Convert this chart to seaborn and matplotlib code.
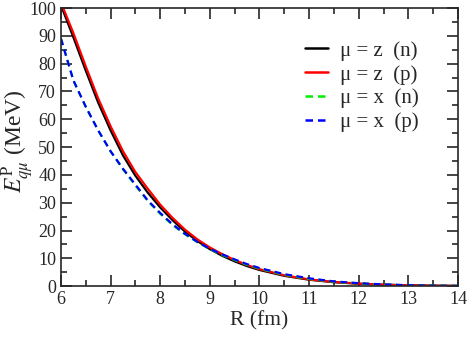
import numpy as np
import pandas as pd
import matplotlib
matplotlib.use('Agg')
import matplotlib.pyplot as plt
import seaborn as sns
from matplotlib.ticker import MultipleLocator

# 数据：近似值
R = [6.0, 6.25, 6.5, 6.75, 7.0, 7.25, 7.5, 7.75, 8.0, 8.25, 8.5, 8.75, 9.0,
     9.25, 9.5, 9.75, 10.0, 10.5, 11.0, 11.5, 12.0, 12.5, 13.0, 13.5, 14.0]
z_n = [101, 89.5, 77.5, 66, 56, 47, 39.7, 33.6, 28.3, 23.7, 19.6, 16.2, 13.3,
       10.9, 8.9, 7.2, 5.8, 3.7, 2.3, 1.4, 0.85, 0.5, 0.28, 0.15, 0.07]
z_p = [102, 91, 79, 67.5, 57.5, 48.5, 41, 35, 29.3, 24.5, 20.3, 16.8, 13.9,
       11.5, 9.4, 7.6, 6.1, 3.9, 2.4, 1.5, 0.9, 0.5, 0.3, 0.15, 0.08]
x_n = [89, 74, 64.5, 56, 48.5, 42, 36.2, 30.6, 26, 22, 18.6, 15.8, 13.3,
       11.2, 9.4, 7.7, 6.3, 4.1, 2.6, 1.6, 1.0, 0.55, 0.3, 0.15, 0.08]
x_p = [89, 74, 64.5, 56, 48.5, 42.2, 36.5, 30.8, 26.3, 22.2, 18.8, 15.9, 13.4,
       11.4, 9.6, 7.9, 6.5, 4.3, 2.8, 1.7, 1.05, 0.6, 0.32, 0.16, 0.08]
labels = ['μ = z  (n)', 'μ = z  (p)', 'μ = x  (n)', 'μ = x  (p)']
colors = ['black', 'red', '#00ee00', 'blue']

df = pd.concat([pd.DataFrame({'R': R, 'E': v, 'case': lab})
                for v, lab in zip([z_n, z_p, x_n, x_p], labels)])

sns.set_style('ticks')
plt.rcParams['font.family'] = ['Liberation Serif', 'DejaVu Serif']
plt.rcParams['mathtext.fontset'] = 'stix'

fig = plt.figure(figsize=(4.69, 3.37), dpi=100)
ax = fig.add_axes([0.130, 0.151, 0.8465, 0.825])
sns.lineplot(data=df, x='R', y='E', hue='case', style='case',
             palette=dict(zip(labels, colors)),
             dashes={labels[0]: '', labels[1]: '', labels[2]: (3, 2), labels[3]: (3, 2)},
             linewidth=1.6, ax=ax)

ax.set_xlim(6, 14)
ax.set_ylim(0, 100)
ax.xaxis.set_major_locator(MultipleLocator(1))
ax.xaxis.set_minor_locator(MultipleLocator(0.5))
ax.yaxis.set_major_locator(MultipleLocator(10))
ax.yaxis.set_minor_locator(MultipleLocator(5))
ax.tick_params(which='both', direction='in', top=True, right=True, labelsize=13, width=1.2)
ax.tick_params(which='major', length=8)
ax.tick_params(which='minor', length=4.5)
for s in ax.spines.values():
    s.set_linewidth(1.2)
ax.set_xlabel('R (fm)', fontsize=15.5, labelpad=2)
ax.set_ylabel(r'$E^{\rm P}_{q\mu}$ (MeV)', fontsize=17, va='center')
ax.yaxis.set_label_coords(-0.11, 0.52)

leg = ax.legend(loc='upper left', frameon=False, fontsize=15, handlelength=1.1,
                handletextpad=0.55, labelspacing=0.2, borderpad=0, borderaxespad=0,
                bbox_to_anchor=(0.615, 0.882))
for h in leg.get_lines():
    h.set_linewidth(1.8)

fig.savefig('out.png', dpi=100)
